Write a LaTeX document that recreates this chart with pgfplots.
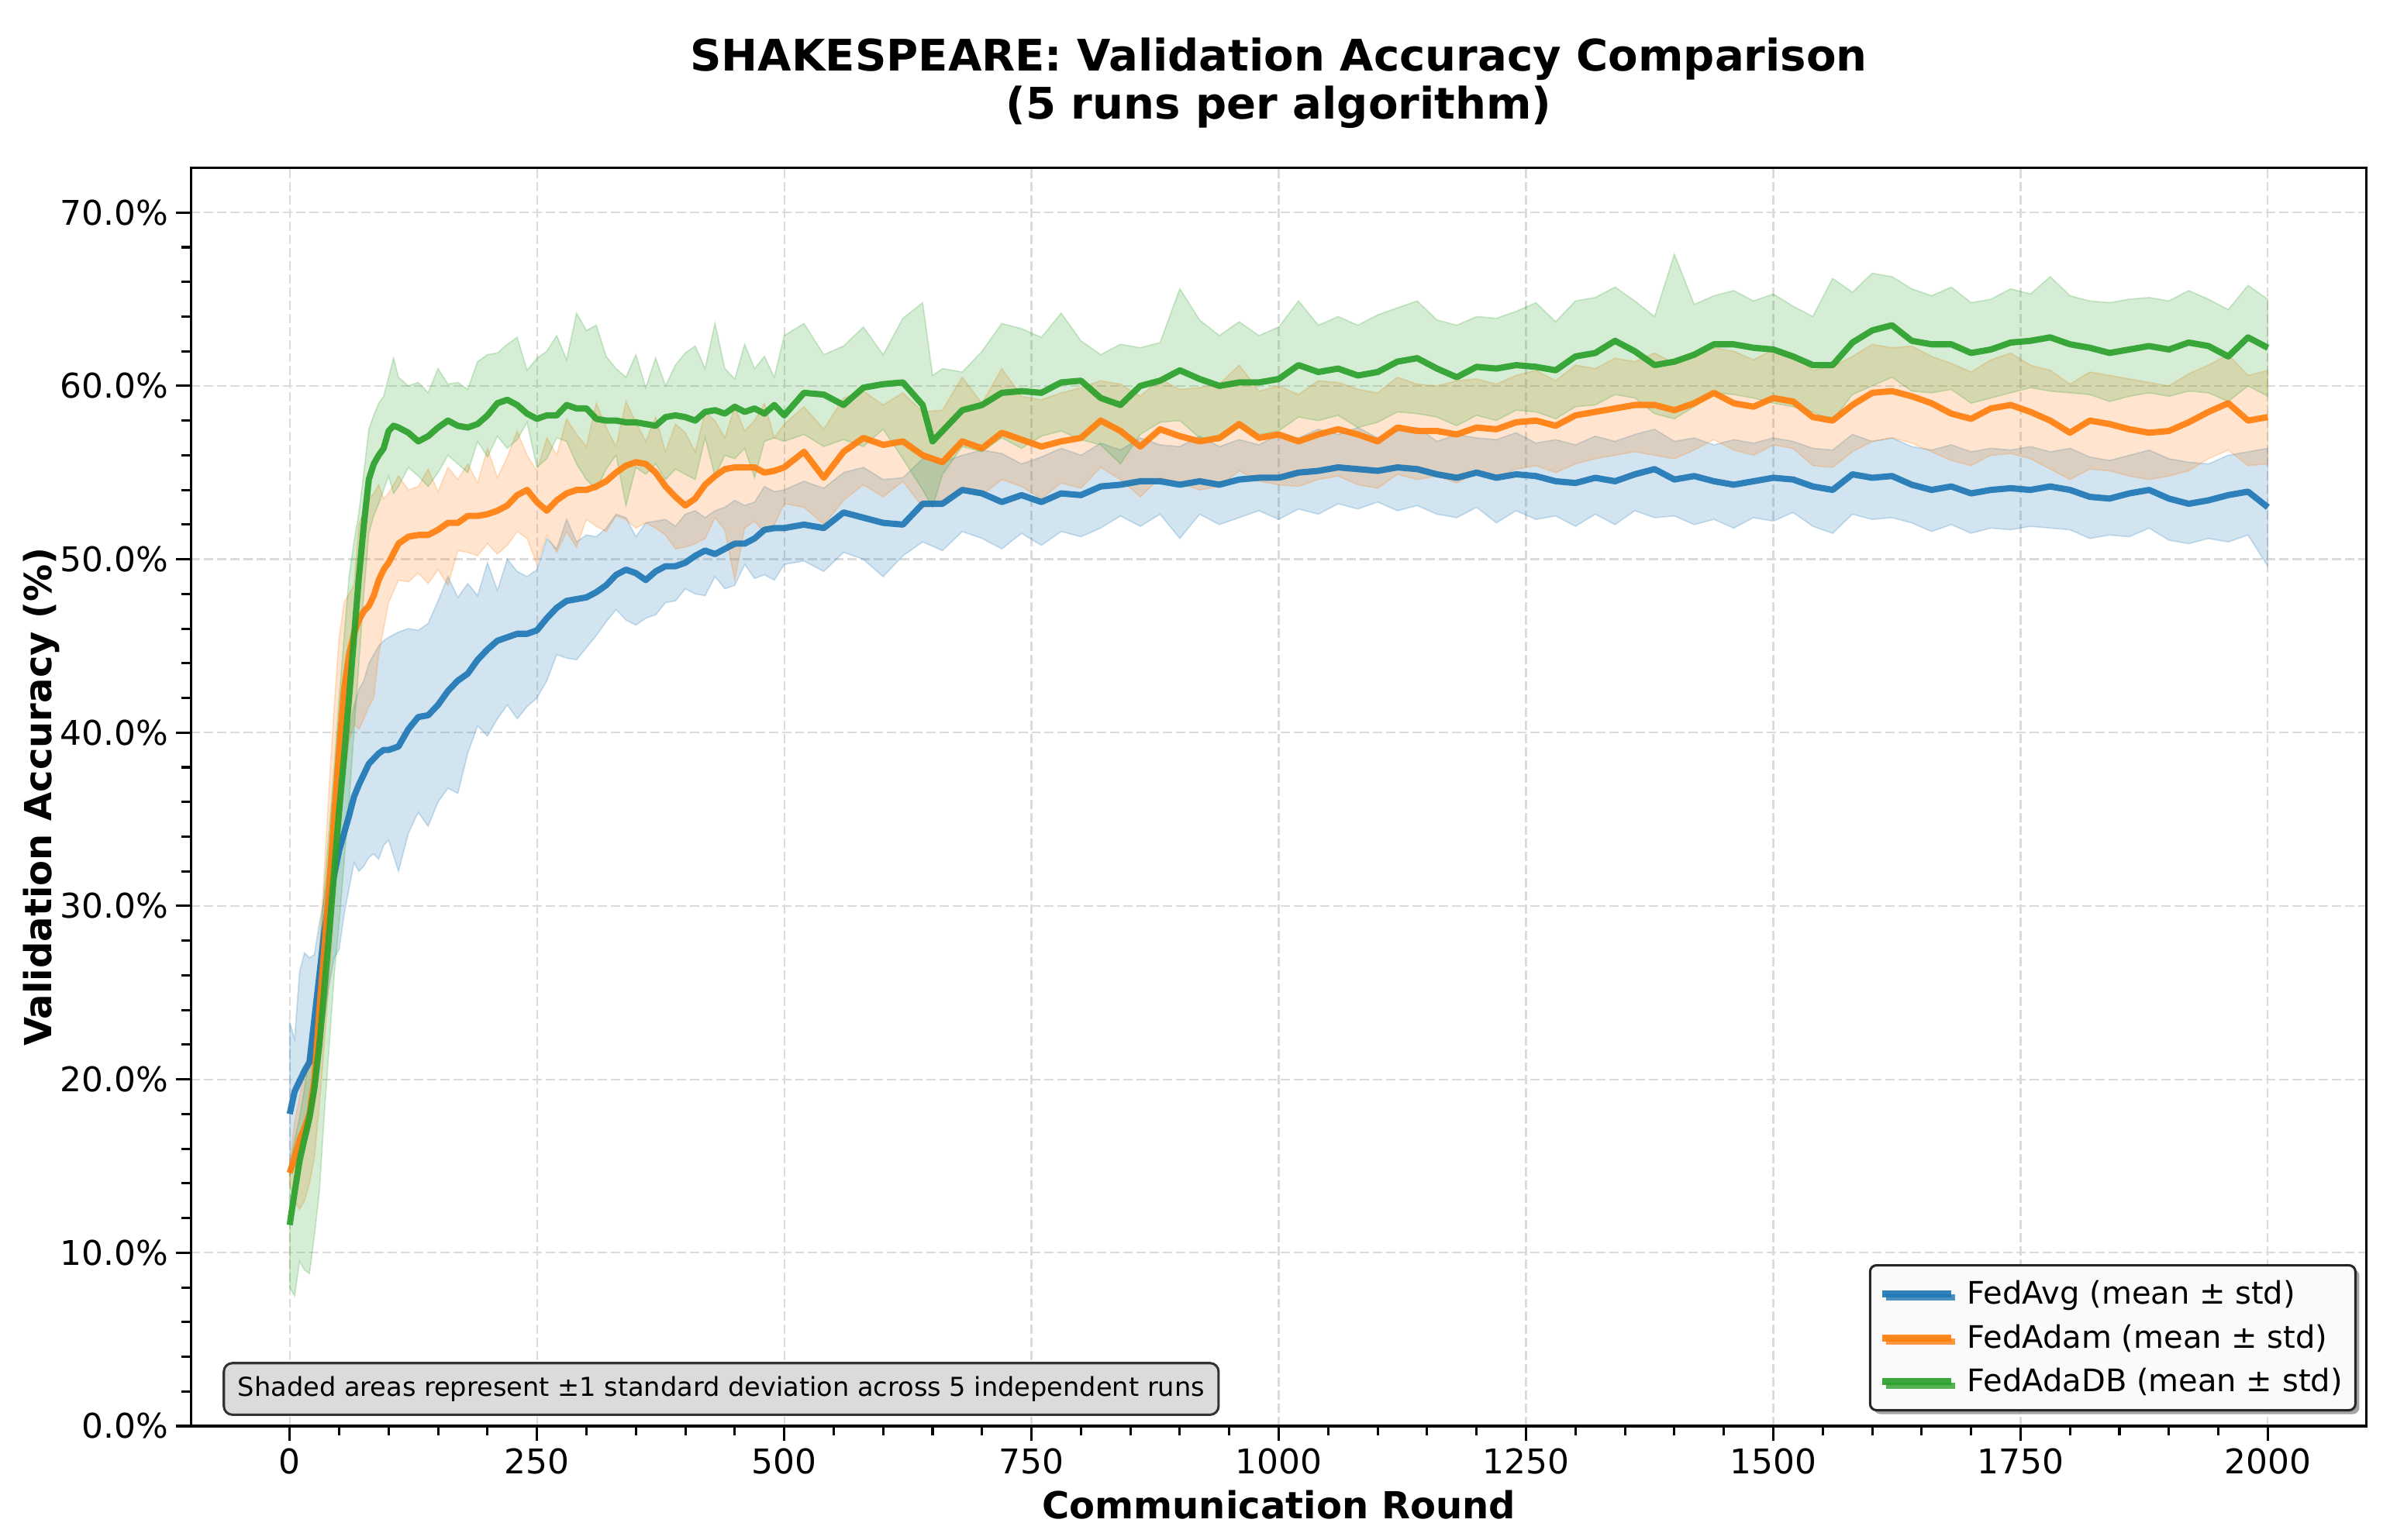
\documentclass[border=0pt]{standalone}
\usepackage{fontspec}
\setmainfont{DejaVu Sans}
\usepackage{pgfplots}
\usepackage{pgfplotstable}
\pgfplotsset{compat=1.18}
\usepgfplotslibrary{fillbetween}
\usetikzlibrary{shadows}
\definecolor{cblue}{HTML}{1F77B4}
\definecolor{corange}{HTML}{FF7F0E}
\definecolor{cgreen}{HTML}{2CA02C}

\pgfplotstableread{
r m lo hi
0 18.0 14.5 23.3
5 19.3 15.0 22.3
10 19.9 15.5 26.2
15 20.5 16.0 27.3
20 21.0 17.0 27.0
25 23.5 18.5 27.2
30 26.0 21.5 29.0
35 28.5 23.5 30.5
40 30.3 25.5 32.5
45 31.8 27.0 34.0
50 33.2 27.5 36.0
55 34.2 29.5 38.5
60 35.2 31.0 40.0
65 36.3 32.5 41.5
70 37.0 32.0 42.5
75 37.6 32.3 43.0
80 38.2 32.8 44.0
85 38.5 33.0 44.5
90 38.8 32.7 45.0
95 39.0 33.5 45.3
100 39.0 33.8 45.5
110 39.2 32.0 45.8
120 40.2 34.2 46.0
130 40.9 35.4 45.9
140 41.0 34.6 46.3
150 41.6 36.0 47.6
160 42.4 36.8 49.0
170 43.0 36.5 47.8
180 43.4 38.8 48.6
190 44.2 40.4 47.9
200 44.8 39.8 49.8
210 45.3 40.8 48.2
220 45.5 41.6 50.0
230 45.7 40.8 49.3
240 45.7 41.5 49.0
250 45.9 42.0 49.4
260 46.6 43.0 51.2
270 47.2 44.5 50.6
280 47.6 44.3 52.3
290 47.7 44.2 51.0
300 47.8 44.9 51.4
310 48.1 45.6 51.3
320 48.5 46.4 51.8
330 49.1 47.1 52.6
340 49.4 46.5 52.4
350 49.2 46.2 51.3
360 48.8 46.6 52.1
370 49.3 46.8 52.2
380 49.6 47.5 52.3
390 49.6 47.6 51.9
400 49.8 48.3 52.6
410 50.2 48.0 52.8
420 50.5 47.9 52.4
430 50.3 49.0 52.8
440 50.6 48.3 53.0
450 50.9 48.5 53.4
460 50.9 49.7 53.1
470 51.2 48.9 53.3
480 51.7 49.1 54.2
490 51.8 48.8 53.9
500 51.8 49.7 54.0
520 52.0 49.9 54.5
540 51.8 49.3 54.1
560 52.7 50.4 55.0
580 52.4 50.0 55.3
600 52.1 49.0 54.6
620 52.0 50.2 54.7
640 53.2 51.0 55.8
660 53.2 50.5 55.6
680 54.0 51.6 56.0
700 53.8 51.2 56.3
720 53.3 50.6 56.1
740 53.7 51.5 55.5
760 53.3 50.8 55.9
780 53.8 51.6 56.4
800 53.7 51.3 56.0
820 54.2 51.8 56.7
840 54.3 52.5 56.3
860 54.5 51.9 57.0
880 54.5 52.6 56.6
900 54.3 51.2 56.5
920 54.5 52.6 57.1
940 54.3 52.0 56.5
960 54.6 52.4 56.9
980 54.7 52.8 56.6
1000 54.7 52.3 57.2
1020 55.0 52.9 57.0
1040 55.1 52.6 57.5
1060 55.3 53.2 57.2
1080 55.2 52.9 57.6
1100 55.1 53.3 57.0
1120 55.3 52.8 57.4
1140 55.2 53.1 57.6
1160 54.9 52.6 56.8
1180 54.7 52.4 57.2
1200 55.0 53.0 57.0
1220 54.7 52.1 56.9
1240 54.9 52.8 57.3
1260 54.8 52.3 56.7
1280 54.5 52.5 56.9
1300 54.4 51.9 56.6
1320 54.7 52.6 57.1
1340 54.5 52.0 56.8
1360 54.9 52.8 57.2
1380 55.2 52.4 57.5
1400 54.6 52.5 56.8
1420 54.8 52.0 57.0
1440 54.5 52.3 56.6
1460 54.3 51.8 56.9
1480 54.5 52.4 56.7
1500 54.7 52.2 57.0
1520 54.6 52.7 56.8
1540 54.2 51.9 56.4
1560 54.0 51.5 56.3
1580 54.9 52.6 57.2
1600 54.7 52.3 56.8
1620 54.8 52.4 57.0
1640 54.3 52.1 56.5
1660 54.0 51.6 56.3
1680 54.2 52.0 56.6
1700 53.8 51.5 56.2
1720 54.0 51.8 56.4
1740 54.1 51.7 56.3
1760 54.0 51.9 56.5
1780 54.2 51.8 56.2
1800 54.0 51.7 56.4
1820 53.6 51.2 55.9
1840 53.5 51.4 55.7
1860 53.8 51.3 56.0
1880 54.0 51.8 56.3
1900 53.5 51.1 55.8
1920 53.2 50.9 55.6
1940 53.4 51.2 55.5
1960 53.7 51.0 56.0
1980 53.9 51.4 56.2
2000 53.0 49.6 56.4
}\tblue

\pgfplotstableread{
r m lo hi
0 14.6 14.0 15.2
5 15.5 13.0 17.5
10 16.5 12.5 19.0
15 17.2 13.0 20.5
20 18.0 14.0 21.5
25 20.0 15.5 23.5
30 24.0 18.5 27.5
35 27.5 22.0 32.0
40 31.2 26.0 37.0
45 35.2 30.0 41.5
50 39.0 34.0 45.5
55 42.5 37.5 47.5
60 44.5 39.5 48.0
65 45.7 40.5 48.5
70 46.5 40.2 52.0
75 47.0 40.8 52.8
80 47.3 41.5 53.5
85 47.9 42.0 53.8
90 48.8 44.5 54.3
95 49.4 46.0 53.5
100 49.8 47.5 53.8
110 50.9 48.8 54.8
120 51.3 48.7 54.0
130 51.4 49.2 54.2
140 51.4 48.6 55.2
150 51.7 49.4 53.9
160 52.1 48.5 55.3
170 52.1 50.5 54.6
180 52.5 50.4 55.5
190 52.5 50.2 54.4
200 52.6 50.9 56.4
210 52.8 50.3 54.7
220 53.1 50.8 55.9
230 53.7 51.6 57.4
240 54.0 51.2 56.0
250 53.3 49.7 55.1
260 52.8 51.4 57.0
270 53.4 50.4 56.0
280 53.8 51.6 58.1
290 54.0 50.7 57.2
300 54.0 52.3 56.5
310 54.2 51.9 59.0
320 54.5 51.6 57.6
330 55.0 52.5 56.5
340 55.4 52.3 59.1
350 55.6 51.8 57.9
360 55.5 52.1 56.8
370 55.0 51.8 58.2
380 54.2 51.4 56.2
390 53.6 50.6 57.8
400 53.1 50.7 57.3
410 53.5 50.9 56.2
420 54.3 51.2 58.5
430 54.8 52.4 58.0
440 55.2 51.7 57.0
450 55.3 48.8 58.8
460 55.3 51.8 57.4
470 55.3 52.2 58.0
480 55.0 51.5 59.0
490 55.1 52.0 57.0
500 55.3 53.2 57.8
520 56.2 53.0 58.8
540 54.7 52.0 57.5
560 56.2 53.4 59.3
580 57.0 54.3 59.7
600 56.6 53.6 58.9
620 56.8 54.5 59.6
640 56.0 53.0 58.5
660 55.6 53.1 58.6
680 56.8 54.0 60.5
700 56.4 53.7 59.0
720 57.3 54.6 61.0
740 56.9 54.2 59.4
760 56.5 53.5 59.2
780 56.8 54.4 59.6
800 57.0 54.1 59.9
820 58.0 55.3 60.3
840 57.4 54.6 60.1
860 56.5 53.6 59.4
880 57.5 54.7 60.4
900 57.1 54.4 59.8
920 56.8 54.0 59.9
940 57.0 54.2 60.1
960 57.8 55.1 61.2
980 57.0 54.5 59.7
1000 57.2 54.3 60.0
1020 56.8 54.2 59.5
1040 57.2 54.6 60.3
1060 57.5 54.8 60.2
1080 57.2 54.3 59.8
1100 56.8 54.1 59.6
1120 57.6 54.9 60.5
1140 57.4 54.6 60.1
1160 57.4 54.8 60.0
1180 57.2 54.4 60.3
1200 57.6 55.0 60.4
1220 57.5 54.7 60.1
1240 57.9 55.2 60.6
1260 58.0 55.4 60.9
1280 57.7 55.0 60.3
1300 58.3 55.5 61.2
1320 58.5 55.8 61.0
1340 58.7 56.0 61.6
1360 58.9 56.2 61.4
1380 58.9 56.0 61.9
1400 58.6 55.8 61.3
1420 59.0 56.3 61.8
1440 59.6 56.9 62.2
1460 59.0 56.3 62.0
1480 58.8 56.0 61.5
1500 59.3 56.6 62.1
1520 59.1 56.4 61.8
1540 58.2 55.4 60.9
1560 58.0 55.3 61.1
1580 58.9 56.2 61.7
1600 59.6 56.8 62.4
1620 59.7 57.0 62.2
1640 59.4 56.7 62.3
1660 59.0 56.2 61.7
1680 58.4 55.7 61.3
1700 58.1 55.4 60.8
1720 58.7 56.0 61.5
1740 58.9 56.1 61.9
1760 58.5 55.8 61.2
1780 58.0 55.2 60.9
1800 57.3 54.6 60.1
1820 58.0 55.2 60.8
1840 57.8 55.1 60.6
1860 57.5 54.8 60.4
1880 57.3 54.6 60.2
1900 57.4 54.8 60.0
1920 57.9 55.1 60.7
1940 58.5 55.8 61.2
1960 59.0 56.3 61.8
1980 58.0 55.4 60.6
2000 58.2 55.5 60.9
}\torange

\pgfplotstableread{
r m lo hi
0 11.6 8.0 15.0
5 13.5 7.5 16.5
10 15.3 9.5 17.8
15 16.6 9.0 19.5
20 17.8 8.8 21.5
25 19.5 11.0 24.0
30 22.0 13.5 27.0
35 25.2 18.0 31.0
40 28.5 22.0 34.5
45 32.0 26.0 38.0
50 35.5 29.0 42.0
55 38.6 32.5 45.5
60 42.0 36.0 49.0
65 45.5 40.0 51.0
70 49.0 44.0 52.7
75 52.0 48.0 55.0
80 54.6 51.5 57.5
85 55.5 52.5 58.3
90 56.0 53.2 59.0
95 56.4 54.0 59.4
100 57.4 54.8 60.5
105 57.7 53.8 61.6
110 57.6 54.2 60.5
120 57.3 55.3 60.0
130 56.8 54.8 60.2
140 57.1 54.2 59.6
150 57.6 55.0 61.0
160 58.0 56.0 60.1
170 57.7 55.5 60.2
180 57.6 55.0 59.8
190 57.8 56.8 61.4
200 58.3 55.9 61.8
210 59.0 57.1 61.9
220 59.2 56.4 62.4
230 58.9 56.9 62.8
240 58.4 57.9 60.9
250 58.1 55.3 61.6
260 58.3 55.8 62.0
270 58.3 57.0 62.9
280 58.9 56.8 61.5
290 58.7 55.5 64.2
300 58.7 54.6 63.2
310 58.1 54.0 63.5
320 58.0 55.2 61.7
330 58.0 56.0 61.0
340 57.9 53.1 60.5
350 57.9 55.3 61.8
360 57.8 54.9 59.9
370 57.7 55.5 61.6
380 58.2 54.6 60.0
390 58.3 55.2 61.2
400 58.2 54.9 61.9
410 58.0 54.6 62.3
420 58.5 57.0 61.0
430 58.6 54.8 63.6
440 58.4 56.0 61.0
450 58.8 55.8 60.4
460 58.5 56.4 62.4
470 58.7 54.7 61.0
480 58.4 56.8 61.7
490 58.9 57.0 60.5
500 58.3 56.8 62.9
520 59.6 57.2 63.6
540 59.5 56.5 61.8
560 58.9 56.9 62.3
580 59.9 56.5 63.4
600 60.1 57.5 61.8
620 60.2 55.8 63.9
640 58.9 54.0 64.8
650 56.8 53.0 60.6
660 57.4 54.9 61.0
680 58.6 56.5 60.8
700 58.9 56.2 62.0
720 59.6 57.0 63.6
740 59.7 56.4 63.3
760 59.6 57.1 62.8
780 60.2 57.4 64.2
800 60.3 56.9 62.6
820 59.3 56.6 61.8
840 58.9 55.5 62.4
860 60.0 57.2 62.2
880 60.3 57.9 62.5
900 60.9 58.0 65.6
920 60.4 57.0 63.8
940 60.0 56.8 62.9
960 60.2 57.6 63.7
980 60.2 57.2 62.9
1000 60.4 57.4 63.4
1020 61.2 58.2 64.9
1040 60.8 58.0 63.5
1060 61.0 58.3 64.0
1080 60.6 57.6 63.5
1100 60.8 57.9 64.1
1120 61.4 58.5 64.5
1140 61.6 58.4 64.9
1160 61.0 58.2 63.8
1180 60.5 57.7 63.5
1200 61.1 58.3 64.0
1220 61.0 58.0 63.9
1240 61.2 58.6 64.3
1260 61.1 58.5 64.8
1280 60.9 58.1 63.7
1300 61.7 58.8 64.9
1320 61.9 58.9 65.1
1340 62.6 59.5 65.7
1360 62.0 59.3 64.9
1380 61.2 58.4 64.0
1400 61.4 58.1 67.6
1420 61.8 58.8 64.7
1440 62.4 59.6 65.2
1460 62.4 59.5 65.5
1480 62.2 59.3 64.9
1500 62.1 59.0 65.3
1520 61.7 58.8 64.6
1540 61.2 58.5 64.0
1560 61.2 58.0 66.2
1580 62.5 59.5 65.4
1600 63.2 60.0 66.5
1620 63.5 60.5 66.3
1640 62.6 59.7 65.6
1660 62.4 59.6 65.2
1680 62.4 59.8 65.7
1700 61.9 59.0 64.8
1720 62.1 59.3 65.0
1740 62.5 59.6 65.6
1760 62.6 59.9 65.3
1780 62.8 59.7 66.3
1800 62.4 59.6 65.2
1820 62.2 59.5 64.9
1840 61.9 59.1 64.8
1860 62.1 59.4 65.0
1880 62.3 59.6 65.1
1900 62.1 59.4 64.9
1920 62.5 59.7 65.5
1940 62.3 59.6 65.0
1960 61.7 59.1 64.4
1980 62.8 60.0 65.8
2000 62.2 59.4 65.0
}\tgreen

\begin{document}
\begin{tikzpicture}
\begin{axis}[
  at={(0pt,0pt)}, anchor=south west,
  scale only axis, width=1010.5pt, height=584.6pt,
  xmin=-100, xmax=2100, ymin=0, ymax=72.6,
  xtick={0,250,...,2000}, minor x tick num=4,
  ytick={0,10,...,70}, minor y tick num=4,
  tick align=outside, tick pos=left,
  major tick length=7pt, minor tick length=4.5pt,
  every tick/.style={black, line width=1.1pt},
  axis line style={black, line width=1.1pt},
  grid=major,
  major grid style={black!14, line width=0.8pt, dash pattern=on 4.3pt off 1.8pt},
  /pgf/number format/assume math mode=true,
  /pgf/number format/1000 sep={},
  ticklabel style={font=\fontsize{15.8}{19}\selectfont},
  yticklabel={\pgfmathprintnumber[fixed,fixed zerofill,precision=1]{\tick}\%},
  legend cell align=left,
  legend image code/.code={\draw[#1, line width=3.2pt] (0pt,0pt) -- (32pt,0pt);},
  legend style={at={(rel axis cs:1,0)}, anchor=south east, xshift=-4.7pt, yshift=6.8pt,
    draw=black!85, fill=black!2, line width=1.1pt, rounded corners=3pt,
    font=\fontsize{14.4}{17}\selectfont, row sep=4pt, inner xsep=4pt, inner ysep=5pt,
    drop shadow={shadow xshift=1.8pt, shadow yshift=-1.8pt, fill=black!45, opacity=0.8},
    /tikz/every odd column/.append style={column sep=4pt}},
  no markers,
]
\addplot[draw=none, name path=bhi, forget plot] table[x=r,y=hi]{\tblue};
\addplot[draw=none, name path=blo, forget plot] table[x=r,y=lo]{\tblue};
\addplot[fill=cblue, fill opacity=0.2, draw=cblue, draw opacity=0.22, line width=0.6pt, forget plot] fill between[of=bhi and blo];
\addplot[cblue, line width=2.9pt, line join=round, draw opacity=0.92] table[x=r,y=m]{\tblue};
\addlegendentry{FedAvg (mean ± std)}

\addplot[draw=none, name path=ohi, forget plot] table[x=r,y=hi]{\torange};
\addplot[draw=none, name path=olo, forget plot] table[x=r,y=lo]{\torange};
\addplot[fill=corange, fill opacity=0.2, draw=corange, draw opacity=0.22, line width=0.6pt, forget plot] fill between[of=ohi and olo];
\addplot[corange, line width=2.9pt, line join=round, draw opacity=0.92] table[x=r,y=m]{\torange};
\addlegendentry{FedAdam (mean ± std)}

\addplot[draw=none, name path=ghi, forget plot] table[x=r,y=hi]{\tgreen};
\addplot[draw=none, name path=glo, forget plot] table[x=r,y=lo]{\tgreen};
\addplot[fill=cgreen, fill opacity=0.2, draw=cgreen, draw opacity=0.22, line width=0.6pt, forget plot] fill between[of=ghi and glo];
\addplot[cgreen, line width=2.9pt, line join=round, draw opacity=0.92] table[x=r,y=m]{\tgreen};
\addlegendentry{FedAdaDB (mean ± std)}
\end{axis}
% annotation box
\node[anchor=south west, draw=black!80, fill=black!14, rounded corners=4pt, line width=1.1pt,
  inner xsep=6.5pt, minimum height=24pt, font=\fontsize{12.1}{14}\selectfont]
  at (14.8pt,4.7pt) {Shaded areas represent ±1 standard deviation across 5 independent runs};
% title
\node[anchor=base, font=\bfseries\fontsize{20.2}{24}\selectfont] at (505.25pt,629.3pt) {SHAKESPEARE: Validation Accuracy Comparison};
\node[anchor=base, font=\bfseries\fontsize{20.2}{24}\selectfont] at (505.25pt,607.3pt) {(5 runs per algorithm)};
% axis labels
\node[font=\bfseries\fontsize{17.3}{20}\selectfont] at (505.25pt,-36.4pt) {Communication Round};
\node[rotate=90, font=\bfseries\fontsize{17.3}{20}\selectfont] at (-69.5pt,292.3pt) {Validation Accuracy (\%)};
\pgfresetboundingbox
\path[use as bounding box] (-88.6pt,-52.6pt) rectangle (1021.3pt,662.4pt);
\end{tikzpicture}
\end{document}
